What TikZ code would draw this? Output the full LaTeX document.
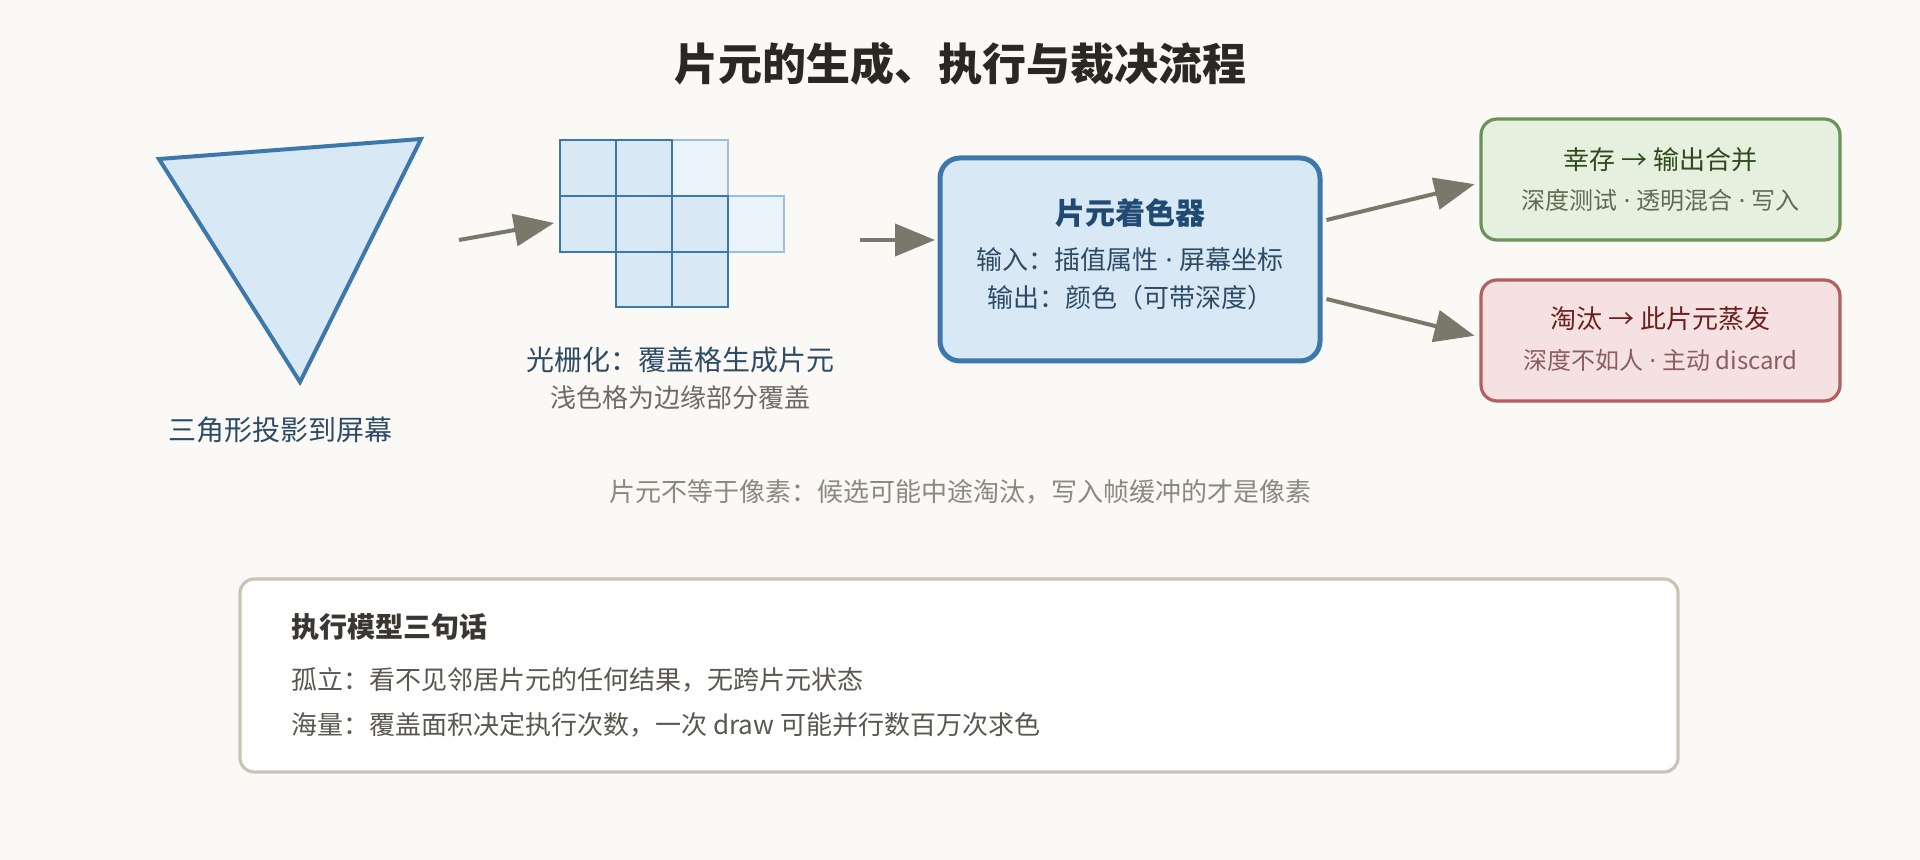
\documentclass[tikz,border=0pt]{standalone}
\usepackage{fontspec}
\setmainfont{Noto Sans CJK SC}
\newfontfamily\latinfont{Noto Sans}
\newcommand{\mdot}{{\latinfont\ ·\ }}
\usetikzlibrary{arrows.meta}
\definecolor{bg}{HTML}{FAF9F6}
\definecolor{bluefill}{HTML}{D9E8F5}
\definecolor{bluestroke}{HTML}{3D78AD}
\definecolor{lightfill}{HTML}{EAF2FA}
\definecolor{lightstroke}{HTML}{9DBFDF}
\definecolor{bluetext}{HTML}{1F4A73}
\definecolor{bluebody}{HTML}{2E4B66}
\definecolor{arrowgrey}{HTML}{7A776B}
\definecolor{greenfill}{HTML}{E6F0DF}
\definecolor{greenstroke}{HTML}{6B9358}
\definecolor{greentext}{HTML}{2E4A1E}
\definecolor{greensub}{HTML}{5F6B55}
\definecolor{redfill}{HTML}{F5E1E1}
\definecolor{redstroke}{HTML}{B45F5F}
\definecolor{redtext}{HTML}{6B2020}
\definecolor{redsub}{HTML}{8B5E5E}
\definecolor{titletext}{HTML}{2B2823}
\definecolor{notegrey}{HTML}{8C8880}
\definecolor{boxstroke}{HTML}{C9C4B6}
\definecolor{boxtitle}{HTML}{3A3631}
\definecolor{boxtext}{HTML}{5A5650}
\definecolor{subgrey}{HTML}{6B6B6B}
\tikzset{
  txt/.style={inner sep=0pt, anchor=center},
  arr/.style={draw=arrowgrey, line width=2pt, -{Triangle[length=20pt,width=16pt]}},
  darkcell/.style={fill=bluefill, draw=bluestroke, line width=1pt},
  lightcell/.style={fill=lightfill, draw=lightstroke, line width=1pt},
}
\begin{document}
\begin{tikzpicture}[x=0.5pt,y=-0.5pt]
\useasboundingbox (0,0) rectangle (1920,860);
\fill[bg] (0,0) rectangle (1920,860);
% title
\node[txt, font=\bfseries\fontsize{22pt}{26pt}\selectfont, text=titletext] (title) at (960,64) {片元的生成、执行与裁决流程};
% triangle
\draw[fill=bluefill, draw=bluestroke, line width=2pt, line join=miter] (159,159) -- (421,139) -- (300,382) -- cycle;
\node[txt, font=\fontsize{14pt}{17pt}\selectfont, text=bluebody] (trilabel) at (280,430) {三角形投影到屏幕};
% grid
\draw[lightcell] (672,140) rectangle (728,196);
\draw[lightcell] (728,196) rectangle (784,252);
\draw[darkcell] (560,140) rectangle (616,196);
\draw[darkcell] (616,140) rectangle (672,196);
\draw[darkcell] (560,196) rectangle (616,252);
\draw[darkcell] (616,196) rectangle (672,252);
\draw[darkcell] (672,196) rectangle (728,252);
\draw[darkcell] (616,252) rectangle (672,307);
\draw[darkcell] (672,252) rectangle (728,307);
\node[txt, font=\fontsize{14pt}{17pt}\selectfont, text=bluebody] (gridlabel) at (680,360) {光栅化：覆盖格生成片元};
\node[txt, font=\fontsize{13pt}{16pt}\selectfont, text=subgrey] (gridsub) at (680,398) {浅色格为边缘部分覆盖};
% arrows into grid and shader
\coordinate (a1s) at (459,240);
\coordinate (a1e) at (554,223);
\draw[arr] (a1s) -- (a1e);
\coordinate (a2s) at (860,240);
\coordinate (a2e) at (935,240);
\draw[arr] (a2s) -- (a2e);
% shader box
\node[draw=bluestroke, fill=bluefill, line width=2.5pt, rounded corners=10pt, minimum width=190pt, minimum height=101.5pt, inner sep=0pt] (shader) at (1130,259.5) {};
\node[txt, font=\bfseries\fontsize{15pt}{18pt}\selectfont, text=bluetext] (shadertitle) at (1130,213) {片元着色器};
\node[txt, font=\fontsize{13pt}{16pt}\selectfont, text=bluebody] (shaderin) at (1130,260) {输入：插值属性\mdot 屏幕坐标};
\node[txt, font=\fontsize{13pt}{16pt}\selectfont, text=bluebody] (shaderout) at (1130,298) {输出：颜色（可带深度）};
% green box
\node[draw=greenstroke, fill=greenfill, line width=1.6pt, rounded corners=8pt, minimum width=179.5pt, minimum height=60.5pt, inner sep=0pt] (pass) at (1660.5,179.5) {};
\node[txt, font=\fontsize{13pt}{16pt}\selectfont, text=greentext] (passtitle) at (1660.5,160) {幸存 → 输出合并};
\node[txt, font=\fontsize{12pt}{15pt}\selectfont, text=greensub] (passsub) at (1660.5,200) {深度测试\mdot 透明混合\mdot 写入};
% red box
\node[draw=redstroke, fill=redfill, line width=1.6pt, rounded corners=8pt, minimum width=179.5pt, minimum height=60.5pt, inner sep=0pt] (kill) at (1660.5,340.5) {};
\node[txt, font=\fontsize{13pt}{16pt}\selectfont, text=redtext] (killtitle) at (1660.5,319) {淘汰 → 此片元蒸发};
\node[txt, font=\fontsize{12pt}{15pt}\selectfont, text=redsub] (killsub) at (1660.5,360) {深度不如人\mdot 主动 discard};
% arrows out of shader
\draw[arr, shorten >=2.5pt] ([shift={(2pt,19.75pt)}]shader.east) -- ([yshift=-1.75pt]pass.west);
\draw[arr, shorten >=2.5pt] ([shift={(2pt,-19.75pt)}]shader.east) -- ([yshift=1.75pt]kill.west);
% footnote
\node[txt, font=\fontsize{13pt}{16pt}\selectfont, text=notegrey] (note) at (960,492) {片元不等于像素：候选可能中途淘汰，写入帧缓冲的才是像素};
% bottom box
\node[draw=boxstroke, fill=white, line width=1.6pt, rounded corners=7pt, minimum width=719pt, minimum height=96.5pt, inner sep=0pt] (model) at (959,675.5) {};
\node[inner sep=0pt, anchor=west, font=\bfseries\fontsize{14pt}{17pt}\selectfont, text=boxtitle] (modeltitle) at (291,627) {执行模型三句话};
\node[inner sep=0pt, anchor=west, font=\fontsize{13pt}{16pt}\selectfont, text=boxtext] (modelone) at (291,680) {孤立：看不见邻居片元的任何结果，无跨片元状态};
\node[inner sep=0pt, anchor=west, font=\fontsize{13pt}{16pt}\selectfont, text=boxtext] (modeltwo) at (291,725) {海量：覆盖面积决定执行次数，一次 draw 可能并行数百万次求色};
\end{tikzpicture}
\end{document}
